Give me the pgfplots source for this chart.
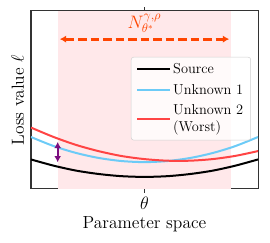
\documentclass[border=0pt]{standalone}
\usepackage{pgfplots}
\pgfplotsset{compat=1.18}
\usetikzlibrary{arrows.meta}
\definecolor{srcblack}{HTML}{000000}
\definecolor{unkblue}{HTML}{6CCBF7}
\definecolor{unkred}{HTML}{FF4444}
\definecolor{regionpink}{HTML}{FFE8EA}
\definecolor{nbhd}{HTML}{FF4500}
\definecolor{arrowpurple}{HTML}{7B0D80}
\begin{document}
\begin{tikzpicture}
\useasboundingbox (-24.8pt,-43.2pt) rectangle (191.2pt,151.2pt);
\begin{axis}[
  scale only axis,
  width=181.6pt, height=142.4pt,
  at={(0,0)}, anchor=south west,
  xmin=-1, xmax=1, ymin=0, ymax=1,
  axis line style={draw=black!80, line width=0.8pt},
  xtick={0}, xticklabels={$\theta$},
  ytick=\empty,
  tick align=outside,
  major tick length=3pt,
  xtick style={draw=black!80, line width=0.8pt},
  ticklabel style={font=\fontsize{14}{16}\selectfont},
  xlabel={Parameter space},
  ylabel={Loss value $\ell$},
  label style={font=\fontsize{14}{16}\selectfont},
  xlabel style={yshift=1pt},
  ylabel style={yshift=-1pt},
  legend style={at={(0.969,0.742)}, anchor=north east,
    font=\fontsize{11.5}{13.8}\selectfont,
    draw=black!18, fill=white, fill opacity=0.8, text opacity=1,
    rounded corners=2pt, inner xsep=4pt, inner ysep=3pt, row sep=3pt,
    legend cell align=left, align=left,
    /tikz/every even column/.append style={column sep=3pt}},
  legend image post style={line width=1.6pt},
  legend image code/.code={\draw[#1] (0pt,0pt) -- (26pt,0pt);},
]
\addplot[draw=none, fill=regionpink, forget plot] coordinates {(-0.762,0) (0.762,0) (0.762,1) (-0.762,1)} -- cycle;
\addplot[srcblack, line width=1.6pt, smooth] coordinates {
 (-1,0.166) (-0.8,0.131) (-0.6,0.103) (-0.4,0.084) (-0.2,0.072) (0,0.068)
 (0.2,0.072) (0.4,0.084) (0.6,0.103) (0.8,0.131) (1,0.166)};
\addlegendentry{Source}
\addplot[unkblue, line width=1.6pt, smooth] coordinates {
 (-1,0.292) (-0.8,0.241) (-0.6,0.202) (-0.4,0.174) (-0.2,0.157) (0,0.151)
 (0.2,0.157) (0.4,0.174) (0.6,0.202) (0.8,0.241) (1,0.292)};
\addlegendentry{Unknown 1}
\addplot[unkred, line width=1.6pt, smooth] coordinates {
 (-1,0.345) (-0.8,0.292) (-0.6,0.247) (-0.4,0.212) (-0.2,0.185) (0,0.168)
 (0.2,0.159) (0.4,0.159) (0.6,0.168) (0.8,0.186) (1,0.213)};
\addlegendentry{Unknown 2\\(Worst)}
\addplot[nbhd, line width=2.3pt, dash pattern=on 7pt off 3pt, {Latex[length=5pt,width=6pt]}-{Latex[length=5pt,width=6pt]}, forget plot] coordinates {(-0.745,0.842) (0.745,0.842)};
\addplot[arrowpurple, line width=1.6pt, {Latex[length=5pt,width=5.5pt]}-{Latex[length=5pt,width=5.5pt]}, forget plot] coordinates {(-0.765,0.265) (-0.765,0.150)};
\node[text=nbhd, font=\fontsize{14.5}{16}\selectfont] at (axis cs:0,0.93) {$N_{\theta^*}^{\gamma,\rho}$};
\end{axis}
\end{tikzpicture}
\end{document}
